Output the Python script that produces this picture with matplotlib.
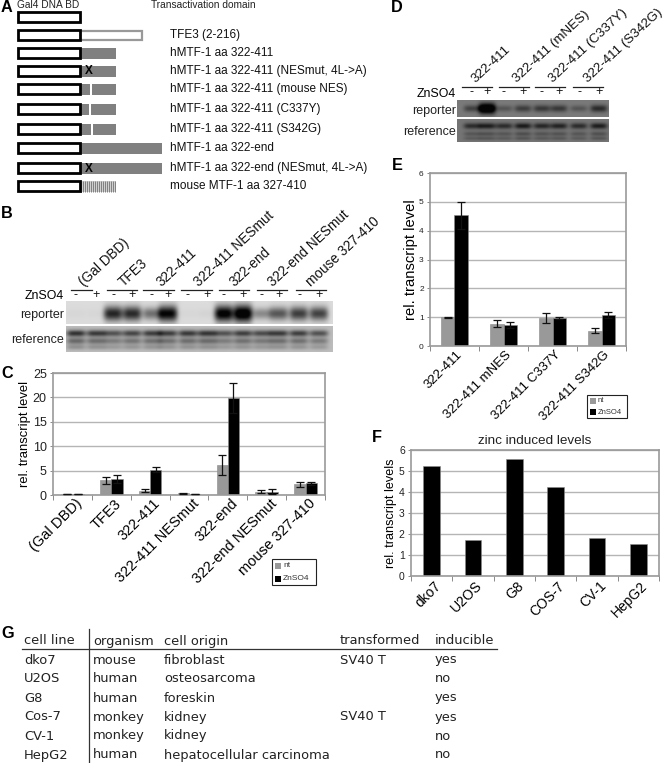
import numpy as np
import matplotlib
matplotlib.use('Agg')
import matplotlib.pyplot as plt
from matplotlib.patches import Rectangle
from matplotlib.transforms import ScaledTranslation

plt.rcParams['font.family'] = ['Liberation Sans', 'DejaVu Sans']

W, H = 664, 763

# panel A
construct_labels = ['', 'TFE3 (2-216)', 'hMTF-1 aa 322-411', 'hMTF-1 aa 322-411 (NESmut, 4L->A)',
                    'hMTF-1 aa 322-411 (mouse NES)', 'hMTF-1 aa 322-411 (C337Y)', 'hMTF-1 aa 322-411 (S342G)',
                    'hMTF-1 aa 322-end', 'hMTF-1 aa 322-end (NESmut, 4L->A)', 'mouse MTF-1 aa 327-410']
construct_y = [17, 35, 53, 71, 89, 109, 129, 148, 168, 186]
construct_end = [80, 143, 116, 116, 116, 116, 116, 162, 162, 116]
construct_kind = ['none', 'tfe3', 'wt', 'x', 'gap', 'gap', 'gap', 'wt', 'x', 'mouse']
gap_x = {4: 90, 5: 89, 6: 91}

# blots B
groups_b = ['(Gal DBD)', 'TFE3', '322-411', '322-411 NESmut', '322-end', '322-end NESmut', 'mouse 327-410']
lanes_b = [76, 96, 113, 132, 152, 168, 188, 207, 224, 243, 262, 279, 299, 319]
signs_b = ['-', '+'] * 7
reporter_b = [0.02, 0.02, 0.72, 0.70, 0.42, 0.85, 0.02, 0.03, 0.9, 1.0, 0.32, 0.52, 0.62, 0.6]
reference_b = [0.55, 0.52, 0.42, 0.47, 0.5, 0.5, 0.52, 0.54, 0.42, 0.5, 0.45, 0.52, 0.5, 0.42]

# blots D
groups_d = ['322-411', '322-411 (mNES)', '322-411 (C337Y)', '322-411 (S342G)']
lanes_d = [472, 487, 504, 523, 542, 559, 579, 599]
signs_d = ['-', '+'] * 4
reporter_d = [0.3, 1.0, 0.2, 0.32, 0.35, 0.35, 0.2, 0.42]
reference_d = [0.42, 0.5, 0.42, 0.52, 0.45, 0.47, 0.42, 0.5]

# panel C
cats_c = ['(Gal DBD)', 'TFE3', '322-411', '322-411 NESmut', '322-end', '322-end NESmut', 'mouse 327-410']
nt_c = [0.15, 3.0, 0.9, 0.35, 6.2, 0.65, 2.2]
zn_c = [0.15, 3.2, 5.2, 0.15, 19.9, 0.7, 2.4]
nt_c_err = [0.0, 0.75, 0.25, 0.1, 2.0, 0.3, 0.5]
zn_c_err = [0.0, 0.8, 0.5, 0.0, 3.0, 0.45, 0.25]

# panel E
cats_e = ['322-411', '322-411 mNES', '322-411 C337Y', '322-411 S342G']
nt_e = [1.0, 0.78, 0.97, 0.53]
zn_e = [4.53, 0.73, 0.97, 1.07]
nt_e_err = [0.02, 0.11, 0.17, 0.09]
zn_e_err = [0.46, 0.1, 0.02, 0.11]

# panel F
cats_f = ['dko7', 'U2OS', 'G8', 'COS-7', 'CV-1', 'HepG2']
levels_f = [5.22, 1.7, 5.55, 4.25, 1.8, 1.52]

# panel G
table_cols = ['cell line', 'organism', 'cell origin', 'transformed', 'inducible']
table_rows = [['dko7', 'mouse', 'fibroblast', 'SV40 T', 'yes'],
              ['U2OS', 'human', 'osteosarcoma', '', 'no'],
              ['G8', 'human', 'foreskin', '', 'yes'],
              ['Cos-7', 'monkey', 'kidney', 'SV40 T', 'yes'],
              ['CV-1', 'monkey', 'kidney', '', 'no'],
              ['HepG2', 'human', 'hepatocellular carcinoma', '', 'no']]

fig = plt.figure(figsize=(W / 100, H / 100), dpi=100)
ov = fig.add_axes([0, 0, 1, 1], zorder=0)
ov.axis('off')


def letter(x, y, s):
    ov.text(x, y, s, fontsize=11.7, fontweight='bold', va='center', ha='left')


def blot(x0, x1, y0, y1, lanes, vals, bands, bg, lane_w):
    # bands are (relative y, relative height, weight)
    nx, ny = (x1 - x0) * 2, (y1 - y0) * 2
    xx, yy = np.meshgrid(np.linspace(x0, x1, nx), np.linspace(0, 1, ny))
    img = np.full((ny, nx), bg, dtype=float)
    for cx, v in zip(lanes, vals):
        gx = np.exp(-((xx - cx) / lane_w) ** 4)
        for by, bh, bw in bands:
            h = bh * (1 + 0.9 * v * (len(bands) == 1))
            img -= v * bw * gx * np.exp(-((yy - by) / h) ** 2)
    ov.imshow(np.clip(img, 0.02, 1), extent=(x0, x1, y1, y0), aspect='auto', cmap='gray',
              vmin=0, vmax=1, interpolation='bilinear')


def bar_chart(box, cats, series, errs, ymax, step, ylabel, ylabel_size, tick_size, label_size, width, pad, shift):
    x0, y0, x1, y1 = box
    ax = fig.add_axes([x0 / W, 1 - y1 / H, (x1 - x0) / W, (y1 - y0) / H], zorder=1)
    n = len(series)
    pos = np.arange(len(cats)) + 0.5
    for i, (vals, col) in enumerate(series):
        off = (i - (n - 1) / 2) * width
        ax.bar(pos + off, vals, width, color=col, zorder=2, edgecolor='#8a8a8a', linewidth=0.4)
        if errs:
            ax.errorbar(pos + off, vals, yerr=errs[i], fmt='none', ecolor='#111111', elinewidth=0.9,
                        capsize=2.6, capthick=0.9, zorder=3)
    ax.set_xlim(0, len(cats))
    ax.set_ylim(0, ymax)
    ax.set_yticks(np.arange(0, ymax + 0.1, step))
    ax.tick_params(axis='y', labelsize=tick_size, length=2.5, width=0.6, color='#777777', pad=2, labelcolor='#222222')
    ax.set_xticks(np.arange(len(cats) + 1))
    ax.set_xticklabels([])
    ax.set_xticks(pos, minor=True)
    ax.set_xticklabels(cats, minor=True, rotation=45, ha='right', rotation_mode='anchor', fontsize=label_size)
    ax.tick_params(axis='x', which='major', length=3.5, width=0.6, color='#777777')
    ax.tick_params(axis='x', which='minor', length=0, pad=pad)
    for lab in ax.get_xticklabels(minor=True):
        lab.set_transform(lab.get_transform() + ScaledTranslation(shift / 100, 0, fig.dpi_scale_trans))
    ax.grid(axis='y', color='#b5b5b5', linewidth=1.0, zorder=1)
    ax.set_axisbelow(True)
    for s in ax.spines.values():
        s.set_color('#9a9a9a')
        s.set_linewidth(1.2)
    ax.set_ylabel(ylabel, fontsize=ylabel_size, labelpad=1)
    return ax


def legend_box(x0, y0, x1, y1, fs):
    ov.add_patch(Rectangle((x0, y0), x1 - x0, y1 - y0, fc='white', ec='#222222', lw=0.8, zorder=5))
    mid = (y0 + y1) / 2
    for yy, col, lab in [((y0 + mid) / 2, '#999999', 'nt'), ((mid + y1) / 2, 'black', 'ZnSO4')]:
        ov.add_patch(Rectangle((x0 + 3, yy - 3), 6, 6, fc=col, ec='none', zorder=6))
        ov.text(x0 + 11, yy, lab, fontsize=fs, va='center', ha='left', color='#333333', zorder=6)


# A
letter(1, 8, 'A')
ov.text(17, 5, 'Gal4 DNA BD', fontsize=7.3, va='center', color='#222222')
ov.text(151, 5, 'Transactivation domain', fontsize=7.3, va='center', color='#222222')
for i, (lab, y, end, kind) in enumerate(zip(construct_labels, construct_y, construct_end, construct_kind)):
    if kind == 'tfe3':
        ov.add_patch(Rectangle((80, y - 4.5), end - 81, 9, fc='white', ec='#999999', lw=1.6))
    elif kind in ('wt', 'x', 'gap'):
        ov.add_patch(Rectangle((80, y - 5.5), end - 80, 11, fc='#808080', ec='none'))
    elif kind == 'mouse':
        ov.add_patch(Rectangle((80, y - 5.5), end - 80, 11, fc='#d0d0d0', ec='none'))
        ov.vlines(np.arange(81, end, 2), y - 5.5, y + 5.5, color='#808080', lw=0.7)
    if kind == 'x':
        ov.text(89, y + 0.5, 'X', fontsize=8.5, fontweight='bold', ha='center', va='center')
    if kind == 'gap':
        ov.add_patch(Rectangle((gap_x[i], y - 5.5), 1.5, 11, fc='white', ec='none'))
    ov.add_patch(Rectangle((17.5, y - 5), 62, 10, fc='white', ec='black', lw=2.0, zorder=4))
    ov.text(170, y, lab, fontsize=8.5, va='center', ha='left', color='#111111')

# B
letter(1, 213, 'B')
for g, (a, b), (tx, ty) in zip(groups_b,
                               [(71, 92), (107, 137), (143, 174), (181, 212), (219, 249), (257, 287), (296, 326)],
                               [(86, 289), (126, 289), (164, 289), (201, 289), (237, 289), (275, 289), (313, 289)]):
    ov.plot([a, b], [290, 290], color='#222222', lw=0.9)
    ov.text(tx, ty, g, rotation=43, rotation_mode='anchor', ha='left', va='bottom', fontsize=9.8, color='#111111')
for x, s in zip(lanes_b, signs_b):
    ov.text(x, 295, s, fontsize=9, ha='center', va='center', color='#111111')
ov.text(64, 296, 'ZnSO4', fontsize=8.9, ha='right', va='center')
ov.text(64, 315, 'reporter', fontsize=9, ha='right', va='center', color='#222222')
ov.text(64, 340, 'reference', fontsize=9, ha='right', va='center', color='#222222')
blot(66, 333, 301, 324, lanes_b, reporter_b, [(0.55, 0.2, 1.0)], 0.86, 9.5)
blot(66, 333, 326, 352, lanes_b, reference_b, [(0.28, 0.13, 1.0), (0.58, 0.13, 0.6), (0.82, 0.1, 0.3)], 0.74, 9.5)

# C
letter(1, 373, 'C')
bar_chart((53, 373, 325, 495), cats_c, [(nt_c, '#999999'), (zn_c, 'black')], [nt_c_err, zn_c_err],
          25, 5, 'rel. transcript level', 9.4, 9, 10.5, 0.29, 1, 3)
legend_box(272, 559, 316, 585, 6)

# D
letter(391, 7, 'D')
for g, (a, b), (tx, ty) in zip(groups_d, [(462, 492), (499, 529), (535, 565), (573, 603)],
                               [(478, 85), (519, 85), (555, 85), (590, 85)]):
    ov.plot([a, b], [87, 87], color='#222222', lw=0.9)
    ov.text(tx, ty, g, rotation=43, rotation_mode='anchor', ha='left', va='bottom', fontsize=9.6, color='#111111')
for x, s in zip(lanes_d, signs_d):
    ov.text(x, 92, s, fontsize=9, ha='center', va='center', color='#111111')
ov.text(456, 94, 'ZnSO4', fontsize=8.9, ha='right', va='center')
ov.text(456, 111, 'reporter', fontsize=9, ha='right', va='center', color='#222222')
ov.text(456, 132, 'reference', fontsize=9, ha='right', va='center', color='#222222')
blot(457, 609, 100, 117, lanes_d, reporter_d, [(0.5, 0.16, 0.75)], 0.48, 8.5)
blot(457, 609, 119, 142, lanes_d, reference_d, [(0.3, 0.13, 0.7), (0.65, 0.1, 0.3), (0.85, 0.08, 0.25)], 0.46, 8.5)

# E
letter(392, 165, 'E')
bar_chart((430, 173, 626, 346), cats_e, [(nt_e, '#999999'), (zn_e, 'black')], [nt_e_err, zn_e_err],
          6, 1, 'rel. transcript level', 10.6, 6, 9.5, 0.285, 2, 2)
legend_box(587, 395, 627, 418, 5.5)

# F
letter(372, 438, 'F')
ax_f = bar_chart((411, 450, 659, 576), cats_f, [(levels_f, 'black')], None,
                 6, 1, 'rel. transcript levels', 9.1, 7.5, 10, 0.4, 2, 2)
ax_f.set_title('zinc induced levels', fontsize=9.7, pad=4, color='#222222')

# G
letter(1, 633, 'G')
col_x = [24, 93, 164, 340, 435]
row_y = [641, 660, 679, 698, 717, 736, 755]
for x, c in zip(col_x, table_cols):
    ov.text(x, row_y[0], c, family='DejaVu Sans', fontsize=9.4, va='center', color='#222222')
for y, row in zip(row_y[1:], table_rows):
    for x, c in zip(col_x, row):
        ov.text(x, y, c, family='DejaVu Sans', fontsize=9.4, va='center', color='#222222')
ov.plot([22, 497], [649, 649], color='#333333', lw=0.9)
ov.plot([89, 89], [629, 763], color='#333333', lw=0.9)

ov.set_xlim(0, W)
ov.set_ylim(H, 0)

fig.savefig('out.png', dpi=100)
